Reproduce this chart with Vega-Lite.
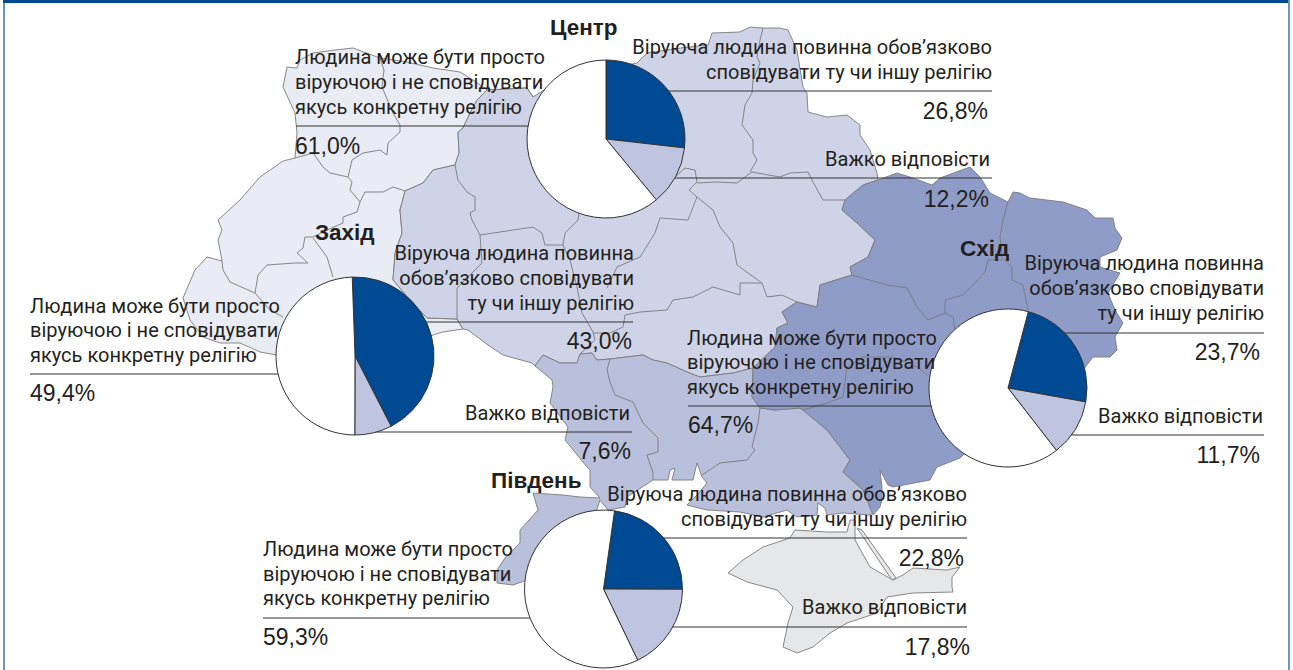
{
"$schema":"https://vega.github.io/schema/vega-lite/v6.json",
"width":1293,"height":670,"padding":0,
"autosize":{"type":"fit","contains":"padding"},
"background":"white",
"view":{"stroke":null},
"projection":{"type":"identity","scale":1,"translate":[0,0]},
"datasets":{
"pies":[
{"region":"Центр","cat":"Віруюча","ord":1,"pct":26.8,"x":606,"y":139},
{"region":"Центр","cat":"Важко","ord":2,"pct":12.2,"x":606,"y":139},
{"region":"Центр","cat":"Людина","ord":3,"pct":61.0,"x":606,"y":139},
{"region":"Захід","cat":"Віруюча","ord":1,"pct":43.0,"x":355,"y":356},
{"region":"Захід","cat":"Важко","ord":2,"pct":7.6,"x":355,"y":356},
{"region":"Захід","cat":"Людина","ord":3,"pct":49.4,"x":355,"y":356},
{"region":"Схід","cat":"Віруюча","ord":1,"pct":23.7,"x":1008,"y":388},
{"region":"Схід","cat":"Важко","ord":2,"pct":11.7,"x":1008,"y":388},
{"region":"Схід","cat":"Людина","ord":3,"pct":64.7,"x":1008,"y":388},
{"region":"Південь","cat":"Віруюча","ord":1,"pct":22.8,"x":603.5,"y":589},
{"region":"Південь","cat":"Важко","ord":2,"pct":17.8,"x":603.5,"y":589},
{"region":"Південь","cat":"Людина","ord":3,"pct":59.3,"x":603.5,"y":589}
],
"labels":[
{"text":"Центр","x":550,"y":35,"side":"l","kind":"bold"},
{"text":"Захід","x":315,"y":240,"side":"l","kind":"bold"},
{"text":"Схід","x":960,"y":256,"side":"l","kind":"bold"},
{"text":"Південь","x":491,"y":488,"side":"l","kind":"bold"},
{"text":"Людина може бути просто","x":295,"y":64,"side":"l","kind":"line"},
{"text":"віруючою і не сповідувати","x":295,"y":89,"side":"l","kind":"line"},
{"text":"якусь конкретну релігію","x":295,"y":114,"side":"l","kind":"line"},
{"text":"61,0%","x":295,"y":154,"side":"l","kind":"pct"},
{"text":"Віруюча людина повинна обов’язково","x":992,"y":54,"side":"r","kind":"line"},
{"text":"сповідувати ту чи іншу релігію","x":992,"y":79,"side":"r","kind":"line"},
{"text":"26,8%","x":988,"y":119,"side":"r","kind":"pct"},
{"text":"Важко відповісти","x":990,"y":166,"side":"r","kind":"line"},
{"text":"12,2%","x":989,"y":207,"side":"r","kind":"pct"},
{"text":"Людина може бути просто","x":30,"y":313,"side":"l","kind":"line"},
{"text":"віруючою і не сповідувати","x":30,"y":337,"side":"l","kind":"line"},
{"text":"якусь конкретну релігію","x":30,"y":362,"side":"l","kind":"line"},
{"text":"49,4%","x":30,"y":401,"side":"l","kind":"pct"},
{"text":"Віруюча людина повинна","x":634,"y":260,"side":"r","kind":"line"},
{"text":"обов’язково сповідувати","x":634,"y":285,"side":"r","kind":"line"},
{"text":"ту чи іншу релігію","x":634,"y":310,"side":"r","kind":"line"},
{"text":"43,0%","x":632,"y":349,"side":"r","kind":"pct"},
{"text":"Важко відповісти","x":630,"y":420,"side":"r","kind":"line"},
{"text":"7,6%","x":631,"y":459,"side":"r","kind":"pct"},
{"text":"Віруюча людина повинна","x":1264,"y":270,"side":"r","kind":"line"},
{"text":"обов’язково сповідувати","x":1264,"y":295,"side":"r","kind":"line"},
{"text":"ту чи іншу релігію","x":1264,"y":320,"side":"r","kind":"line"},
{"text":"23,7%","x":1260,"y":360,"side":"r","kind":"pct"},
{"text":"Важко відповісти","x":1263,"y":423,"side":"r","kind":"line"},
{"text":"11,7%","x":1260,"y":463,"side":"r","kind":"pct"},
{"text":"Людина може бути просто","x":687,"y":345,"side":"l","kind":"line"},
{"text":"віруючою і не сповідувати","x":687,"y":369,"side":"l","kind":"line"},
{"text":"якусь конкретну релігію","x":687,"y":394,"side":"l","kind":"line"},
{"text":"64,7%","x":688,"y":433,"side":"l","kind":"pct"},
{"text":"Віруюча людина повинна обов’язково","x":967,"y":501,"side":"r","kind":"line"},
{"text":"сповідувати ту чи іншу релігію","x":967,"y":526,"side":"r","kind":"line"},
{"text":"22,8%","x":964,"y":566,"side":"r","kind":"pct"},
{"text":"Важко відповісти","x":967,"y":614,"side":"r","kind":"line"},
{"text":"17,8%","x":970,"y":655,"side":"r","kind":"pct"},
{"text":"Людина може бути просто","x":263,"y":556,"side":"l","kind":"line"},
{"text":"віруючою і не сповідувати","x":263,"y":581,"side":"l","kind":"line"},
{"text":"якусь конкретну релігію","x":263,"y":605,"side":"l","kind":"line"},
{"text":"59,3%","x":263,"y":645,"side":"l","kind":"pct"}
]
},
"layer":[
{"data":{"values":[
{"type":"Feature","properties":{"zone":"Захід"},"geometry":{"type":"Polygon","coordinates":[[[283,87],[287,67],[297,68],[300,60],[313,53],[335,50],[353,48],[380,58],[407,62],[433,68],[460,72],[473,80],[487,90],[527,88],[533,97],[527,88],[487,90],[477,100],[470,113],[463,128],[458,132],[459,153],[455,165],[433,170],[423,183],[405,191],[400,210],[402,233],[395,253],[393,280],[410,300],[427,318],[457,319],[463,329],[443,332],[433,335],[420,340],[277,355],[260,352],[240,343],[220,343],[203,337],[190,320],[183,298],[195,270],[207,257],[222,261],[220,250],[218,240],[222,230],[218,220],[240,200],[260,177],[283,161],[295,158],[297,133],[295,113],[283,87]]]}},
{"type":"Feature","properties":{"zone":"Центр"},"geometry":{"type":"Polygon","coordinates":[[[527,88],[533,97],[560,80],[637,63],[647,53],[680,48],[708,45],[712,33],[740,32],[750,27],[763,28],[780,28],[788,30],[797,50],[803,87],[807,93],[808,112],[827,117],[847,115],[860,125],[860,135],[870,150],[877,173],[878,180],[863,185],[845,200],[842,210],[857,223],[875,240],[868,257],[850,267],[852,275],[820,285],[817,307],[797,302],[782,312],[788,323],[777,328],[775,347],[753,368],[733,373],[700,377],[687,372],[667,363],[653,360],[643,355],[610,359],[597,360],[592,353],[580,354],[577,363],[560,363],[543,355],[535,366],[532,363],[503,355],[488,345],[468,330],[463,329],[457,319],[427,318],[410,300],[393,280],[395,253],[402,233],[400,210],[405,191],[423,183],[433,170],[455,165],[459,153],[458,132],[463,128],[470,113],[477,100],[487,90],[527,88]]]}},
{"type":"Feature","properties":{"zone":"Південь"},"geometry":{"type":"Polygon","coordinates":[[[535,366],[543,355],[560,363],[577,363],[580,354],[592,353],[597,360],[610,359],[643,355],[653,360],[667,363],[687,372],[700,377],[733,373],[753,368],[752,397],[760,408],[775,410],[800,408],[803,410],[827,430],[850,460],[843,472],[863,490],[873,513],[870,515],[843,513],[827,515],[825,508],[818,503],[817,515],[797,517],[787,510],[763,517],[740,512],[707,510],[687,505],[697,495],[707,483],[702,477],[697,463],[693,480],[672,480],[675,468],[670,470],[668,480],[653,480],[627,497],[625,507],[608,510],[600,500],[596,512],[560,530],[527,580],[513,585],[497,583],[497,570],[505,558],[520,543],[520,530],[538,510],[533,493],[563,495],[580,497],[600,498],[590,487],[590,470],[587,467],[565,440],[568,427],[550,403],[553,387],[552,380],[535,366]]]}},
{"type":"Feature","properties":{"zone":"Схід"},"geometry":{"type":"Polygon","coordinates":[[[878,180],[897,173],[910,177],[932,185],[940,178],[970,167],[980,177],[990,193],[1008,202],[1013,192],[1020,193],[1030,198],[1063,202],[1087,210],[1095,218],[1113,218],[1115,228],[1122,238],[1117,250],[1100,257],[1100,267],[1120,273],[1108,293],[1115,310],[1123,323],[1115,337],[1117,350],[1110,357],[1093,357],[1060,400],[963,455],[960,458],[937,467],[930,480],[893,487],[888,485],[880,470],[882,487],[882,500],[880,507],[873,515],[863,490],[843,472],[850,460],[827,430],[803,410],[800,408],[775,410],[760,408],[752,397],[753,368],[775,347],[777,328],[788,323],[782,312],[797,302],[817,307],[820,285],[852,275],[850,267],[868,257],[875,240],[857,223],[842,210],[845,200],[863,185],[878,180]]]}},
{"type":"Feature","properties":{"zone":"Крим"},"geometry":{"type":"Polygon","coordinates":[[[728,573],[743,560],[763,547],[790,538],[795,530],[827,532],[847,532],[850,520],[855,520],[855,540],[870,567],[893,580],[903,575],[913,568],[947,570],[960,567],[952,577],[952,587],[953,592],[913,593],[887,597],[877,613],[847,623],[830,633],[813,647],[797,653],[783,647],[788,623],[793,607],[777,590],[747,582],[728,573]]]}},
{"type":"Feature","properties":{"zone":"Крим"},"geometry":{"type":"Polygon","coordinates":[[[857,528],[862,530],[896,578],[892,580],[857,528]]]}}
]},
"mark":{"type":"geoshape","stroke":"#7a7a7a","strokeWidth":0.9},
"encoding":{"fill":{"field":"properties.zone","type":"nominal","legend":null,"scale":{"domain":["Захід","Центр","Південь","Схід","Крим"],"range":["#e9ecf4","#ced3e7","#b8c0dc","#8f9cc8","#e6e7e8"]}}}},
{"data":{"values":[
{"type":"Feature","properties":{"name":"borders"},"geometry":{"type":"MultiLineString","coordinates":[
[[380,58],[384,70],[382,87],[393,113],[400,125],[400,132],[388,143],[387,155],[380,150],[363,153],[352,160],[348,177],[352,182],[350,190],[360,202],[365,192],[383,192],[393,187],[405,191]],
[[295,158],[313,153],[323,167],[330,173],[348,177]],
[[360,202],[357,212],[343,217],[343,223],[327,230],[313,237],[305,237],[303,248],[297,253],[308,263],[295,263],[267,265],[258,275],[255,293],[270,310],[283,317]],
[[255,293],[230,282],[223,270],[222,261]],
[[313,238],[327,257],[333,277]],
[[455,165],[458,180],[467,192],[475,197],[475,210],[470,213],[472,220],[480,235],[500,232],[533,227],[542,233],[545,245],[563,245],[565,233],[578,220],[579,213]],
[[480,235],[482,263],[457,288],[457,319]],
[[563,245],[570,260],[577,287],[582,313],[593,332],[595,340],[580,354]],
[[675,177],[685,168],[695,170],[697,182],[689,190],[697,197],[688,220],[660,218],[655,233],[640,257],[617,267],[607,288]],
[[697,183],[717,182],[737,183],[745,177],[752,172],[780,177],[790,173],[808,172],[813,182],[823,200],[845,200]],
[[750,172],[757,160],[753,153],[753,140],[742,125],[745,105],[752,93],[753,80],[760,63],[757,57],[760,40],[763,28]],
[[697,197],[713,210],[720,227],[733,243],[737,265],[762,283],[767,297],[782,295],[797,302]],
[[762,283],[740,283],[740,295],[713,287],[693,297],[673,300],[667,310],[640,312],[625,315],[623,327],[610,333],[593,333]],
[[610,359],[607,370],[610,382],[615,395],[633,402],[643,423],[658,438],[658,452],[647,455],[653,473],[653,480]],
[[760,408],[758,423],[752,447],[755,450],[747,460],[720,463],[702,475]],
[[1008,202],[1003,220],[1000,237],[1002,258],[1012,267],[1012,280],[1023,285],[1028,310]],
[[1002,260],[988,260],[985,272],[973,285],[963,295],[945,300],[945,313],[928,320],[917,307],[907,288],[887,285],[852,275]],
[[945,313],[953,317],[955,330]],
[[928,375],[917,367],[893,357],[863,357],[847,367],[843,397],[827,403],[803,410]]
]}}
]},
"mark":{"type":"geoshape","filled":false,"stroke":"#7a7a7a","strokeWidth":0.9},"encoding":{}},
{"data":{"values":[
{"type":"Feature","properties":{"name":"top"},"geometry":{"type":"Polygon","coordinates":[[[3,0],[1288,0],[1288,3],[3,3],[3,0]]]}}
]},
"mark":{"type":"geoshape","fill":"#004a93","stroke":null},"encoding":{}},
{"data":{"values":[
{"type":"Feature","properties":{"name":"left"},"geometry":{"type":"Polygon","coordinates":[[[3,3],[5,3],[5,670],[3,670],[3,3]]]}},
{"type":"Feature","properties":{"name":"right"},"geometry":{"type":"Polygon","coordinates":[[[1288,0],[1290,0],[1290,670],[1288,670],[1288,0]]]}}
]},
"mark":{"type":"geoshape","fill":"#6f93c3","stroke":null},"encoding":{}},
{"data":{"values":[
{"type":"Feature","properties":{"name":"Центр ліворуч"},"geometry":{"type":"LineString","coordinates":[[296,126],[560,126]]}},
{"type":"Feature","properties":{"name":"Центр вгорі"},"geometry":{"type":"LineString","coordinates":[[640,91],[992,91]]}},
{"type":"Feature","properties":{"name":"Центр внизу"},"geometry":{"type":"LineString","coordinates":[[640,178],[992,178]]}},
{"type":"Feature","properties":{"name":"Захід ліворуч"},"geometry":{"type":"LineString","coordinates":[[30,374],[330,374]]}},
{"type":"Feature","properties":{"name":"Захід вгорі"},"geometry":{"type":"LineString","coordinates":[[400,322],[633,322]]}},
{"type":"Feature","properties":{"name":"Захід внизу"},"geometry":{"type":"LineString","coordinates":[[370,432],[632,432]]}},
{"type":"Feature","properties":{"name":"Схід ліворуч"},"geometry":{"type":"LineString","coordinates":[[688,406],[970,406]]}},
{"type":"Feature","properties":{"name":"Схід вгорі"},"geometry":{"type":"LineString","coordinates":[[1040,333],[1264,333]]}},
{"type":"Feature","properties":{"name":"Схід внизу"},"geometry":{"type":"LineString","coordinates":[[1040,435],[1264,435]]}},
{"type":"Feature","properties":{"name":"Південь ліворуч"},"geometry":{"type":"LineString","coordinates":[[263,618],[560,618]]}},
{"type":"Feature","properties":{"name":"Південь вгорі"},"geometry":{"type":"LineString","coordinates":[[640,538],[967,538]]}},
{"type":"Feature","properties":{"name":"Південь внизу"},"geometry":{"type":"LineString","coordinates":[[640,627],[967,627]]}}
]},
"mark":{"type":"geoshape","filled":false,"stroke":"#333333","strokeWidth":1.2},"encoding":{}},
{"data":{"name":"pies"},
"transform":[{"filter":"datum.region=='Центр'"},{"stack":"pct","groupby":["region"],"sort":[{"field":"ord"}],"offset":"normalize","as":["a0","a1"]}],
"mark":{"type":"arc","radius":79,"stroke":"#333333","strokeWidth":1},
"encoding":{"longitude":{"field":"x","type":"quantitative"},"latitude":{"field":"y","type":"quantitative"},"theta":{"field":"a0","type":"quantitative","scale":{"domain":[0,1]}},"theta2":{"field":"a1"},"color":{"field":"cat","type":"nominal","legend":null,"scale":{"domain":["Віруюча","Важко","Людина"],"range":["#004a93","#bfc5e0","#ffffff"]}}}},
{"data":{"name":"pies"},
"transform":[{"filter":"datum.region=='Захід'"},{"stack":"pct","groupby":["region"],"sort":[{"field":"ord"}],"offset":"normalize","as":["a0","a1"]}],
"mark":{"type":"arc","radius":79,"stroke":"#333333","strokeWidth":1,"thetaOffset":-0.035,"theta2Offset":-0.035},
"encoding":{"longitude":{"field":"x","type":"quantitative"},"latitude":{"field":"y","type":"quantitative"},"theta":{"field":"a0","type":"quantitative","scale":{"domain":[0,1]}},"theta2":{"field":"a1"},"color":{"field":"cat","type":"nominal","legend":null,"scale":{"domain":["Віруюча","Важко","Людина"],"range":["#004a93","#bfc5e0","#ffffff"]}}}},
{"data":{"name":"pies"},
"transform":[{"filter":"datum.region=='Схід'"},{"stack":"pct","groupby":["region"],"sort":[{"field":"ord"}],"offset":"normalize","as":["a0","a1"]}],
"mark":{"type":"arc","radius":79,"stroke":"#333333","strokeWidth":1,"thetaOffset":0.26,"theta2Offset":0.26},
"encoding":{"longitude":{"field":"x","type":"quantitative"},"latitude":{"field":"y","type":"quantitative"},"theta":{"field":"a0","type":"quantitative","scale":{"domain":[0,1]}},"theta2":{"field":"a1"},"color":{"field":"cat","type":"nominal","legend":null,"scale":{"domain":["Віруюча","Важко","Людина"],"range":["#004a93","#bfc5e0","#ffffff"]}}}},
{"data":{"name":"pies"},
"transform":[{"filter":"datum.region=='Південь'"},{"stack":"pct","groupby":["region"],"sort":[{"field":"ord"}],"offset":"normalize","as":["a0","a1"]}],
"mark":{"type":"arc","radius":79,"stroke":"#333333","strokeWidth":1,"thetaOffset":0.14,"theta2Offset":0.14},
"encoding":{"longitude":{"field":"x","type":"quantitative"},"latitude":{"field":"y","type":"quantitative"},"theta":{"field":"a0","type":"quantitative","scale":{"domain":[0,1]}},"theta2":{"field":"a1"},"color":{"field":"cat","type":"nominal","legend":null,"scale":{"domain":["Віруюча","Важко","Людина"],"range":["#004a93","#bfc5e0","#ffffff"]}}}},
{"data":{"name":"labels"},"transform":[{"filter":"datum.kind=='line' && datum.side=='l'"}],
"mark":{"type":"text","align":"left","baseline":"alphabetic","font":"Roboto","fontSize":20,"fill":"#231f20"},
"encoding":{"longitude":{"field":"x","type":"quantitative"},"latitude":{"field":"y","type":"quantitative"},"text":{"field":"text"}}},
{"data":{"name":"labels"},"transform":[{"filter":"datum.kind=='line' && datum.side=='r'"}],
"mark":{"type":"text","align":"right","baseline":"alphabetic","font":"Roboto","fontSize":20,"fill":"#231f20"},
"encoding":{"longitude":{"field":"x","type":"quantitative"},"latitude":{"field":"y","type":"quantitative"},"text":{"field":"text"}}},
{"data":{"name":"labels"},"transform":[{"filter":"datum.kind=='pct' && datum.side=='l'"}],
"mark":{"type":"text","align":"left","baseline":"alphabetic","font":"Liberation Sans","fontSize":23,"fill":"#231f20"},
"encoding":{"longitude":{"field":"x","type":"quantitative"},"latitude":{"field":"y","type":"quantitative"},"text":{"field":"text"}}},
{"data":{"name":"labels"},"transform":[{"filter":"datum.kind=='pct' && datum.side=='r'"}],
"mark":{"type":"text","align":"right","baseline":"alphabetic","font":"Liberation Sans","fontSize":23,"fill":"#231f20"},
"encoding":{"longitude":{"field":"x","type":"quantitative"},"latitude":{"field":"y","type":"quantitative"},"text":{"field":"text"}}},
{"data":{"name":"labels"},"transform":[{"filter":"datum.kind=='bold'"}],
"mark":{"type":"text","align":"left","baseline":"alphabetic","font":"Liberation Sans","fontSize":22.5,"fontWeight":"bold","fill":"#231f20"},
"encoding":{"longitude":{"field":"x","type":"quantitative"},"latitude":{"field":"y","type":"quantitative"},"text":{"field":"text"}}}
]
}
